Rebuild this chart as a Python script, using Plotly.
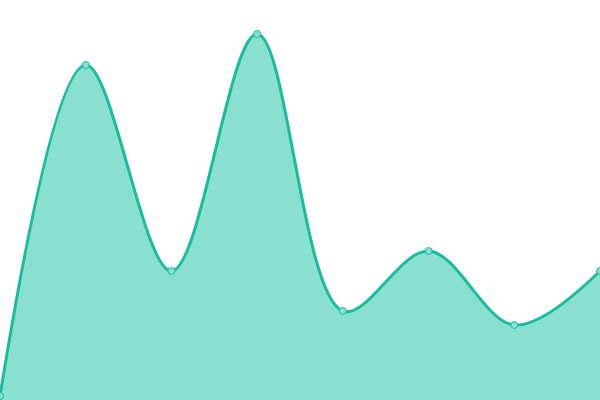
import plotly.graph_objects as go

x_vals = [0, 1, 2, 3, 4, 5, 6, 7]
y_vals = [4, 335, 129, 366, 89, 149, 75, 129]

fig = go.Figure()
fig.add_trace(go.Scatter(
    x=x_vals, y=y_vals,
    mode='lines+markers',
    line=dict(color='#1abc9c', width=3, shape='spline', smoothing=1),
    marker=dict(size=7, color='#8ae0cf', line=dict(color='#1abc9c', width=1)),
    fill='tozeroy',
    fillcolor='#8ae0cf',
    hoverinfo='skip',
))

fig.update_layout(
    width=600, height=400,
    margin=dict(l=0, r=0, t=0, b=0),
    paper_bgcolor='white', plot_bgcolor='white',
    showlegend=False,
    xaxis=dict(range=[0, 7], visible=False),
    yaxis=dict(range=[0, 400], visible=False),
)

# page body has an 8px default margin, drop it so the chart fills the window
fig.write_html("out.html", config={'displayModeBar': False},
               post_script="document.body.style.margin='0';")
